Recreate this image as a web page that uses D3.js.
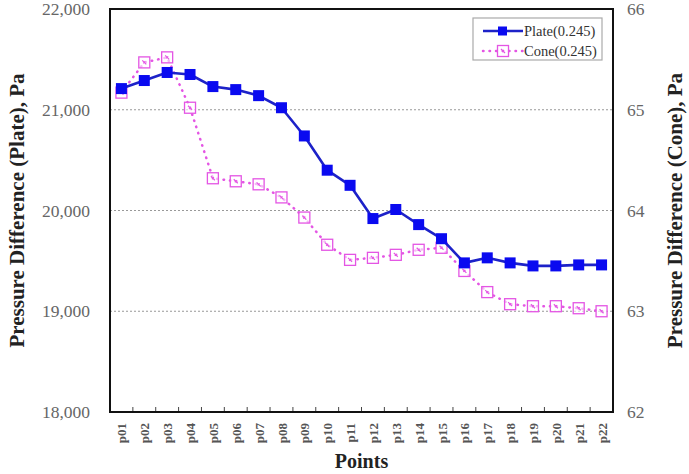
<!DOCTYPE html>
<html>
<head>
<meta charset="utf-8">
<script src="https://cdn.jsdelivr.net/npm/d3@7"></script>
<style>
  body { margin: 0; background: #fff; }
  text { font-family: "Liberation Serif", "Times New Roman", serif; }
</style>
</head>
<body>
<svg id="chart" width="689" height="474"></svg>
<script>
var points = ['p01','p02','p03','p04','p05','p06','p07','p08','p09','p10','p11',
              'p12','p13','p14','p15','p16','p17','p18','p19','p20','p21','p22'];

var plate = [21210, 21290, 21370, 21350, 21230, 21200, 21140, 21020, 20740, 20400, 20250,
             19920, 20010, 19860, 19720, 19480, 19530, 19480, 19450, 19450, 19460, 19460];

var cone = [65.17, 65.47, 65.52, 65.02, 64.32, 64.29, 64.26, 64.13, 63.93, 63.66, 63.51,
            63.53, 63.56, 63.61, 63.63, 63.40, 63.19, 63.07, 63.05, 63.05, 63.03, 63.00];

var plateTicks = [18000, 19000, 20000, 21000, 22000];
var coneTicks = [62, 63, 64, 65, 66];
var seriesNames = ['Plate(0.245)', 'Cone(0.245)'];

var svg = d3.select('#chart'),
    margin = {top: 9, right: 76, bottom: 62, left: 110},
    width = +svg.attr('width') - margin.left - margin.right,
    height = +svg.attr('height') - margin.top - margin.bottom,
    g = svg.append('g')
          .attr('transform', `translate(${margin.left}, ${margin.top})`);

var x = d3.scalePoint().domain(points).range([0, width]).padding(0.5),
    xb = d3.scaleBand().domain(points).range([0, width]),
    yL = d3.scaleLinear().domain([18000, 22000]).range([height, 0]),
    yR = d3.scaleLinear().domain([62, 66]).range([height, 0]);

var plateColor = '#0a0af0', coneColor = '#e455e4';

// grid
g.append('g')
  .selectAll('line')
  .data(plateTicks.slice(1, -1))
  .join('line')
    .attr('x1', 0).attr('x2', width)
    .attr('y1', d => yL(d)).attr('y2', d => yL(d))
    .attr('stroke', '#999')
    .attr('stroke-width', 1.2)
    .attr('stroke-dasharray', '2,2');

// tick marks between categories on bottom
g.append('g')
  .selectAll('line')
  .data(points.slice(1))
  .join('line')
    .attr('x1', d => xb(d)).attr('x2', d => xb(d))
    .attr('y1', height).attr('y2', height - 5)
    .attr('stroke', '#444')
    .attr('stroke-width', 1);

// left axis
var axL = g.append('g')
  .call(d3.axisLeft(yL).tickValues(plateTicks).tickFormat(d3.format(',')).tickSize(0).tickPadding(20));
axL.select('.domain').remove();
axL.selectAll('text').attr('font-size', 17.5).attr('fill', '#666');

// right axis
var axR = g.append('g')
  .attr('transform', `translate(${width}, 0)`)
  .call(d3.axisRight(yR).tickValues(coneTicks).tickFormat(d3.format('d')).tickSize(0).tickPadding(14));
axR.select('.domain').remove();
axR.selectAll('text').attr('font-size', 17.5).attr('fill', '#666');

// bottom axis
var axB = g.append('g')
  .attr('transform', `translate(0, ${height})`)
  .call(d3.axisBottom(x).tickSize(0));
axB.select('.domain').remove();
axB.selectAll('text')
  .attr('transform', 'rotate(-90)')
  .attr('x', -11)
  .attr('y', 0)
  .attr('dy', '0.35em')
  .attr('text-anchor', 'end')
  .attr('font-size', 13)
  .attr('font-weight', 'bold')
  .attr('fill', '#555');

// frame
g.append('rect')
  .attr('width', width).attr('height', height)
  .attr('fill', 'none')
  .attr('stroke', '#111')
  .attr('stroke-width', 2);

// titles
svg.append('text')
  .attr('transform', `translate(24, ${margin.top + height / 2}) rotate(-90)`)
  .attr('text-anchor', 'middle')
  .attr('font-size', 21).attr('font-weight', 'bold').attr('fill', '#222')
  .text('Pressure Difference (Plate), Pa');

svg.append('text')
  .attr('transform', `translate(682, ${margin.top + height / 2}) rotate(-90)`)
  .attr('text-anchor', 'middle')
  .attr('font-size', 21).attr('font-weight', 'bold').attr('fill', '#222')
  .text('Pressure Difference (Cone), Pa');

svg.append('text')
  .attr('x', margin.left + width / 2)
  .attr('y', 468)
  .attr('text-anchor', 'middle')
  .attr('font-size', 20).attr('font-weight', 'bold').attr('fill', '#222')
  .text('Points');

// cone series
var coneLine = d3.line()
  .x((d, i) => x(points[i]))
  .y(d => yR(d));

g.append('path')
  .datum(cone)
  .attr('fill', 'none')
  .attr('stroke', coneColor)
  .attr('stroke-width', 2.5)
  .attr('stroke-linecap', 'round')
  .attr('stroke-dasharray', '0.5,6')
  .attr('d', coneLine);

function coneMarker(sel) {
  sel.append('rect')
    .attr('x', -5.5).attr('y', -5.5).attr('width', 11).attr('height', 11)
    .attr('fill', '#fff').attr('fill-opacity', 0.6)
    .attr('stroke', coneColor).attr('stroke-width', 1.3);
  sel.append('path')
    .attr('d', 'M-2,-2L2,2M-1,1L1,-1')
    .attr('stroke', coneColor).attr('stroke-width', 1.2);
}

g.append('g')
  .selectAll('g')
  .data(cone)
  .join('g')
    .attr('transform', (d, i) => `translate(${x(points[i])}, ${yR(d)})`)
    .call(coneMarker);

// plate series
var plateLine = d3.line()
  .x((d, i) => x(points[i]))
  .y(d => yL(d));

g.append('path')
  .datum(plate)
  .attr('fill', 'none')
  .attr('stroke', '#1d22c8')
  .attr('stroke-width', 2.6)
  .attr('stroke-linejoin', 'round')
  .attr('d', plateLine);

g.append('g')
  .selectAll('rect')
  .data(plate)
  .join('rect')
    .attr('x', (d, i) => x(points[i]) - 5.5)
    .attr('y', d => yL(d) - 5.5)
    .attr('width', 11).attr('height', 11)
    .attr('fill', plateColor);

// legend
var lg = svg.append('g').attr('transform', 'translate(473, 18)');
lg.append('rect')
  .attr('width', 129).attr('height', 42)
  .attr('fill', '#fff')
  .attr('stroke', '#aaa').attr('stroke-width', 1.2);

lg.append('line')
  .attr('x1', 10).attr('x2', 50).attr('y1', 13).attr('y2', 13)
  .attr('stroke', '#1d22c8').attr('stroke-width', 2.6);
lg.append('rect')
  .attr('x', 25).attr('y', 8.5).attr('width', 9).attr('height', 9)
  .attr('fill', plateColor);
lg.append('text')
  .attr('x', 51).attr('y', 13).attr('dy', '0.35em')
  .attr('font-size', 14.5).attr('fill', '#333')
  .text(seriesNames[0]);

lg.append('line')
  .attr('x1', 10).attr('x2', 50).attr('y1', 33).attr('y2', 33)
  .attr('stroke', coneColor).attr('stroke-width', 2.5)
  .attr('stroke-linecap', 'round')
  .attr('stroke-dasharray', '0.5,6');
lg.append('g')
  .attr('transform', 'translate(30, 33)')
  .call(coneMarker);
lg.append('text')
  .attr('x', 51).attr('y', 33).attr('dy', '0.35em')
  .attr('font-size', 14.5).attr('fill', '#333')
  .text(seriesNames[1]);
</script>
</body>
</html>
